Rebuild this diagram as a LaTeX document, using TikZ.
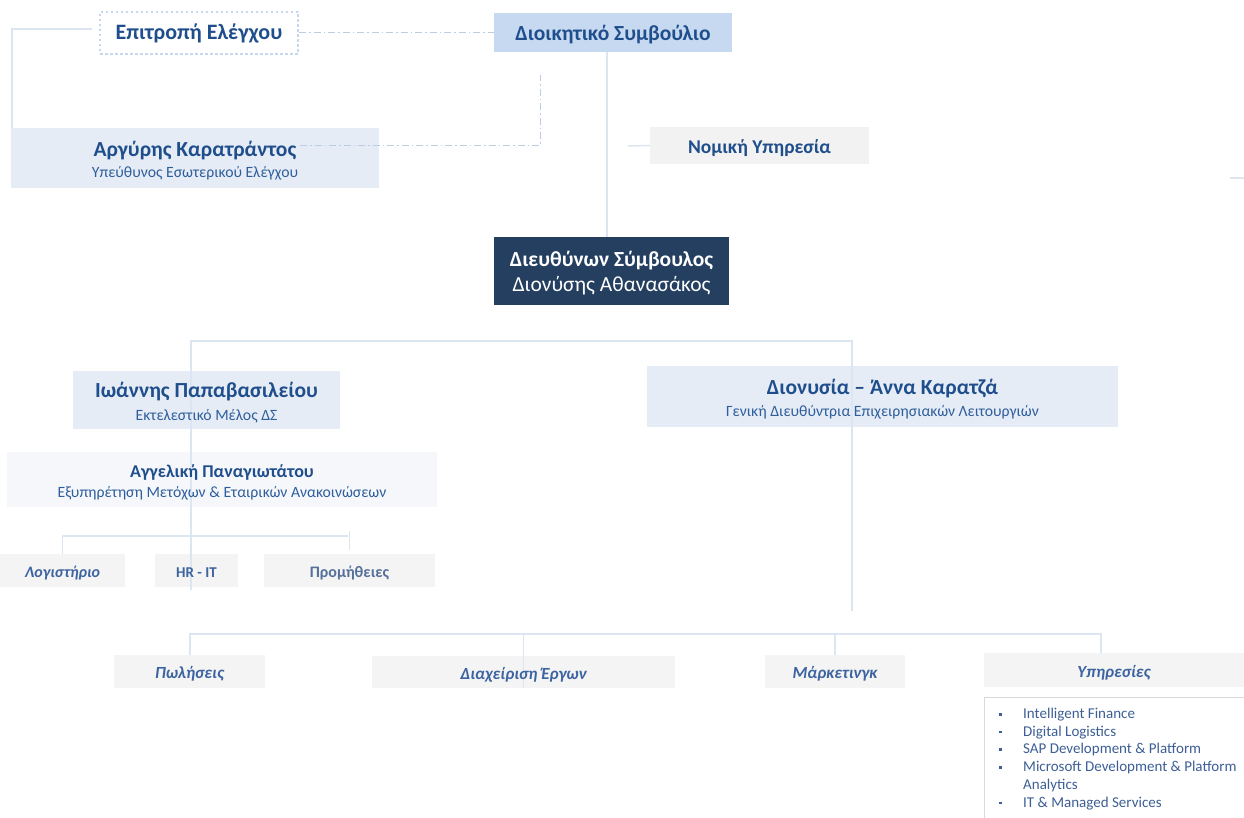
\documentclass[tikz,border=0pt]{standalone}
\usepackage{fontspec}
\setmainfont{Carlito}
\usepackage{tikz}
\usetikzlibrary{calc}

\definecolor{txtblue}{HTML}{1F4E8C}
\definecolor{subblue}{HTML}{2E5E9C}
\definecolor{unitblue}{HTML}{3D64A0}
\definecolor{procgray}{HTML}{56709A}
\definecolor{listblue}{HTML}{3D5F96}
\definecolor{boardfill}{HTML}{C6D9F1}
\definecolor{palefill}{HTML}{E6ECF5}
\definecolor{irfill}{HTML}{F5F7FB}
\definecolor{legalfill}{HTML}{F2F2F2}
\definecolor{unitfill}{HTML}{F4F4F4}
\definecolor{ceofill}{HTML}{243F60}
\definecolor{linkblue}{HTML}{DCE6F2}
\definecolor{dashblue}{HTML}{BCCDE4}
\definecolor{dotblue}{HTML}{C6D7EE}
\definecolor{listgray}{HTML}{D9D9D9}

\pgfdeclarelayer{boxes}
\pgfdeclarelayer{lines}
\pgfsetlayers{boxes,lines,main}

\newcommand\sz[2]{\fontsize{#1}{#2}\selectfont}
\newcommand\bul{\rule[3pt]{2.5pt}{2.5pt}}

\begin{document}
\begin{tikzpicture}[x=1pt,y=-1pt,
  box/.style={inner sep=0pt, align=center, text=txtblue},
  card/.style={box, yshift=-2.5pt},
  unit/.style={card, minimum height=33pt, text=unitblue, font=\sz{17}{20}\bfseries\itshape},
  link/.style={draw=linkblue, line width=1.5pt},
  dashlink/.style={draw=dashblue, line width=1pt, dash pattern=on 7pt off 3pt on 1.5pt off 3pt}]
  \useasboundingbox (0,0) rectangle (1244,818);
  \clip (0,0) rectangle (1244,818);

  \node[box, minimum width=198pt, minimum height=42pt, draw=dotblue, line width=2.5pt, dash pattern=on 2.5pt off 2.5pt, font=\sz{22}{24}\bfseries] (ctrl) at (199,33) {Επιτροπή Ελέγχου};
  \node[card, minimum width=238pt, minimum height=39pt, font=\sz{21.5}{24}\bfseries] (board) at (613,32.5) {Διοικητικό Συμβούλιο};
  \node[card, minimum width=368pt, minimum height=60pt, font=\sz{15.7}{21}] (audit) at (195,158)
    {{\sz{21.5}{21}\bfseries Αργύρης Καρατράντος}\\{\color{subblue}Υπεύθυνος Εσωτερικού Ελέγχου}};
  \node[card, minimum width=219pt, minimum height=37pt, font=\sz{19.5}{22}\bfseries] (legal) at (759.5,145.5) {Νομική Υπηρεσία};
  \node[card, text=white, minimum width=235pt, minimum height=68pt, font=\sz{21.5}{25}] (ceo) at (611.5,271)
    {{\bfseries Διευθύνων Σύμβουλος}\\Διονύσης Αθανασάκος};
  \node[card, minimum width=267pt, minimum height=58pt, font=\sz{15.7}{23}] (exec) at (206.5,400)
    {{\sz{21.5}{23}\bfseries Ιωάννης Παπαβασιλείου}\\{\color{subblue}Εκτελεστικό Μέλος ΔΣ}};
  \node[card, minimum width=430pt, minimum height=55pt, font=\sz{15.7}{20}] (ir) at (222,479.5)
    {{\sz{18}{20}\bfseries Αγγελική Παναγιωτάτου}\\{\color{subblue}Εξυπηρέτηση Μετόχων \& Εταιρικών Ανακοινώσεων}};
  \node[card, minimum width=471pt, minimum height=61pt, font=\sz{15.7}{22}] (coo) at (882.5,396.5)
    {{\sz{21.5}{22}\bfseries Διονυσία – Άννα Καρατζά}\\{\color{subblue}Γενική Διευθύντρια Επιχειρησιακών Λειτουργιών}};

  \node[unit, minimum width=125pt, font=\sz{16}{20}\bfseries\itshape] (acc) at (62.5,570.5) {Λογιστήριο};
  \node[unit, minimum width=83pt, font=\sz{15}{18}\bfseries] (hrit) at (196.5,570.5) {HR - IT};
  \node[unit, minimum width=171pt, font=\sz{16}{18}\bfseries, text=procgray] (proc) at (349.5,570.5) {Προμήθειες};

  \node[unit, minimum width=151pt] (sales) at (189.5,671.5) {Πωλήσεις};
  \node[unit, minimum width=302pt, minimum height=32pt] (pm) at (523.5,672) {Διαχείριση Έργων};
  \node[unit, minimum width=140pt] (mkt) at (835,671.5) {Μάρκετινγκ};
  \node[unit, minimum width=260pt, minimum height=34pt] (svc) at (1114,670) {Υπηρεσίες};

  \node[draw=listgray, line width=1pt, fill=white, anchor=north west, minimum width=280pt, minimum height=130pt, inner sep=0pt] (svclist) at (984,697) {};
  \node[anchor=north west, inner sep=0pt, text=listblue, font=\sz{15}{17.7}] (svcitems) at ([xshift=15pt,yshift=-9pt]svclist.north west)
    {\begin{tabular}{@{}p{24pt}@{}l@{}}
      \bul & Intelligent Finance\\
      \bul & Digital Logistics\\
      \bul & SAP Development \& Platform\\
      \bul & Microsoft Development \& Platform\\
           & Analytics\\
      \bul & IT \& Managed Services
    \end{tabular}};

  \begin{pgfonlayer}{boxes}
    \foreach \n/\c in {board/boardfill, audit/palefill, legal/legalfill, ceo/ceofill, exec/palefill, ir/irfill, coo/palefill,
                       acc/unitfill, hrit/unitfill, proc/unitfill, sales/unitfill, pm/unitfill, mkt/unitfill, svc/unitfill}
      \fill[\c] ([yshift=2.5pt]\n.south west) rectangle ([yshift=2.5pt]\n.north east);
  \end{pgfonlayer}

  \coordinate (ctrlend) at (92,29);
  \coordinate (auditturn) at (540,75);
  \coordinate (legalend) at (628,146);
  \coordinate (stubA) at (1230,178);
  \coordinate (stubB) at (1244,178);
  \coordinate (busL) at (191,341);
  \coordinate (busR) at (852,341);
  \coordinate (busend) at (852,611);
  \coordinate (lowL) at (190,634);
  \coordinate (lowR) at (1101,634);
  \coordinate (irR) at (348,536);

  \begin{pgfonlayer}{lines}
    \draw[dashlink] (ctrl.east) -- (ctrl.east -| board.west);
    \draw[dashlink] ([xshift=-79pt,yshift=14.5pt]audit.east) -| (auditturn);
    \draw[link] (ctrlend) -| ([xshift=1pt,yshift=2.5pt]audit.north west);
    \draw[link] ([xshift=-6pt,yshift=2.5pt]board.south) -- ([xshift=-6pt,yshift=2.5pt]board.south |- ceo.north);
    \draw[link] ([yshift=2.5pt]legal.west) -- (legalend);
    \draw[link] (stubA) -- (stubB);
    \draw[link] (busL |- hrit.south) -- (busL) -- (busR) -- (busend);
    \draw[link] ([yshift=2.5pt]acc.north) |- (irR);
    \draw[link] ([yshift=6.5pt]proc.north) -- ++(0,-19);
    \draw[link] ([yshift=2.5pt]lowL |- sales.north) -- (lowL) -- (lowR) -- ([yshift=2.5pt]lowR |- svc.north);
    \draw[link] (lowL -| pm.south) -- ([yshift=2.5pt]pm.south);
    \draw[link] (lowL -| mkt.north) -- ([yshift=2.5pt]mkt.north);
  \end{pgfonlayer}
\end{tikzpicture}
\end{document}
